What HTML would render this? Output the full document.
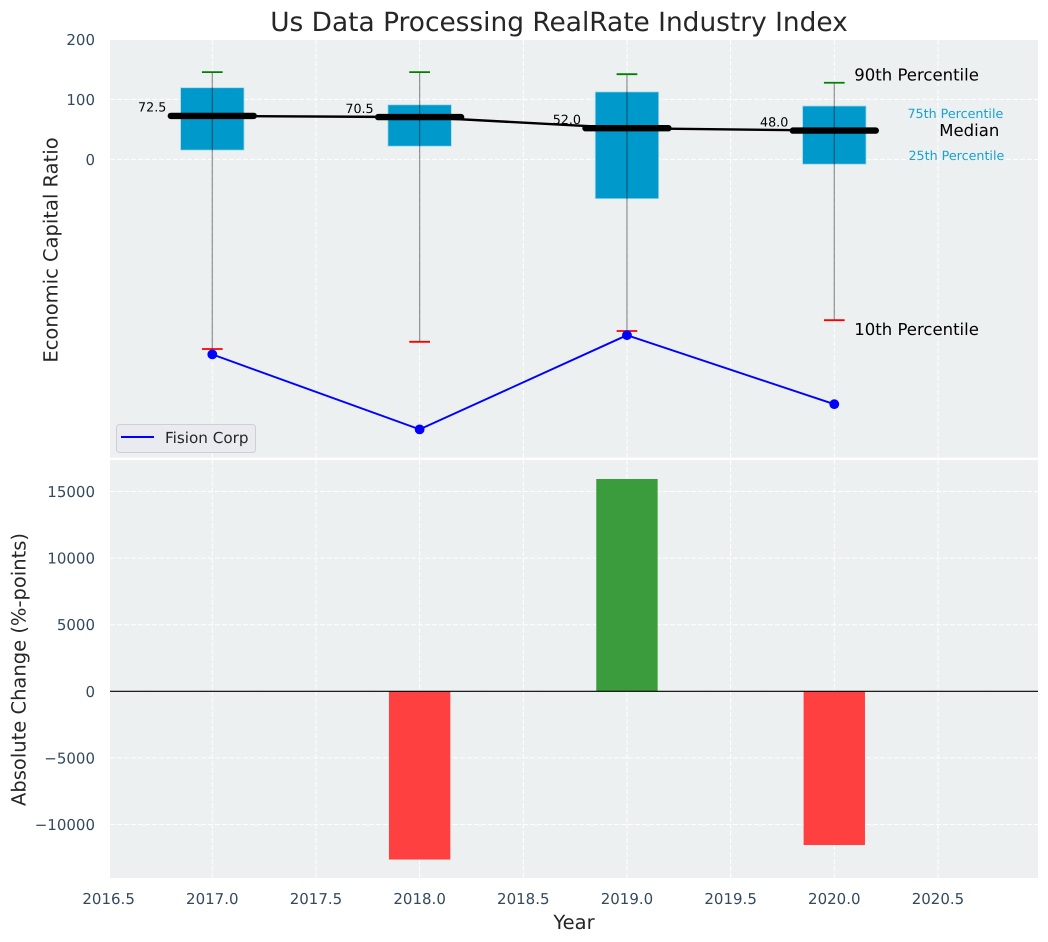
<!DOCTYPE html>
<html>
<head>
<meta charset="utf-8">
<title>Us Data Processing RealRate Industry Index</title>
<style>
html,body{margin:0;padding:0;background:#fff;}
svg{display:block;font-family:"DejaVu Sans","Liberation Sans",sans-serif;text-rendering:geometricPrecision;}
</style>
</head>
<body>
<svg id="chart" width="1048" height="942" viewBox="0 0 1048 942" xmlns="http://www.w3.org/2000/svg">
  <text x="559" y="31" font-size="26.4" fill="#262626" text-anchor="middle">Us Data Processing RealRate Industry Index</text>
  <rect x="110" y="40" width="928" height="417.7" fill="#ecf0f1"/>
  <rect x="110" y="460" width="928" height="418" fill="#ecf0f1"/>
  <g id="top-grid"></g>
  <g id="bottom-grid"></g>
  <g id="top-marks"></g>
  <g id="bottom-marks"></g>
  <g id="axis-labels"></g>
  <text transform="translate(57.5,250) rotate(-90)" font-size="19.5" fill="#262626" text-anchor="middle">Economic Capital Ratio</text>
  <text transform="translate(25.5,669.5) rotate(-90)" font-size="19.5" fill="#262626" text-anchor="middle">Absolute Change (%-points)</text>
  <text x="574" y="929" font-size="19.5" fill="#262626" text-anchor="middle">Year</text>
  <g>
    <rect x="116.5" y="424.5" width="139" height="28" rx="3" fill="#e9ebf1" stroke="#cfcfd2" stroke-width="1"/>
    <line x1="121" y1="437" x2="154" y2="437" stroke="#0000ff" stroke-width="2"/>
    <text x="165" y="443" font-size="15.2" fill="#262626">Fision Corp</text>
  </g>
</svg>
<script>
var years = [2017, 2018, 2019, 2020];
var p90 = [145.5, 145.5, 142, 127.7];
var p75 = [119.5, 91, 112.5, 89];
var medians = [72.5, 70.5, 52.0, 48.0];
var p25 = [15.5, 22, -65.5, -8];
var p10 = [-316, -304, -286, -268];
var fisionCorp = [-325, -450, -293, -408];
var absoluteChange = [0, -12630, 15940, -11540];
var xTicks = [2016.5, 2017, 2017.5, 2018, 2018.5, 2019, 2019.5, 2020, 2020.5];
var topYTicks = [200, 100, 0];
var bottomYTicks = [15000, 10000, 5000, 0, -5000, -10000];
var medianLabels = ["72.5", "70.5", "52.0", "48.0"];

var NS = "http://www.w3.org/2000/svg";
function xScale(v) { return 212.3 + (v - 2017) * 207.33; }
function yTop(v) { return 159.4 - v * 0.6; }
function yBottom(v) { return 691.3 - v * 0.01332; }
function make(parent, tag, attrs, text) {
  var el = document.createElementNS(NS, tag);
  for (var k in attrs) { el.setAttribute(k, attrs[k]); }
  if (text !== undefined) { el.textContent = text; }
  parent.appendChild(el);
  return el;
}
var topGrid = document.getElementById("top-grid");
var bottomGrid = document.getElementById("bottom-grid");
var topMarks = document.getElementById("top-marks");
var bottomMarks = document.getElementById("bottom-marks");
var axisLabels = document.getElementById("axis-labels");
var gridStyle = { stroke: "#ffffff", "stroke-width": 1, "stroke-dasharray": "5 2", fill: "none" };
function gridLine(parent, x1, y1, x2, y2) {
  var a = { x1: x1, y1: y1, x2: x2, y2: y2 };
  for (var k in gridStyle) { a[k] = gridStyle[k]; }
  return make(parent, "line", a);
}

xTicks.forEach(function (t) {
  var x = xScale(t);
  if (x >= 110) {
    var g1 = gridLine(topGrid, x, 40, x, 457.7);
    
    
    var g2 = gridLine(bottomGrid, x, 460, x, 878);
    
    
  }
  var lab = make(axisLabels, "text", { x: x, y: 904, "font-size": 15, fill: "#34495e", "text-anchor": "middle" }, t.toFixed(1));
  
  
});
topYTicks.forEach(function (t) {
  var y = yTop(t);
  var g = gridLine(topGrid, 110, y, 1038, y);
  
  
  var lab = make(axisLabels, "text", { x: 95, y: y + 5.5, "font-size": 15, fill: "#34495e", "text-anchor": "end" }, String(t));
  
  
});
bottomYTicks.forEach(function (t) {
  var y = yBottom(t);
  var g = gridLine(bottomGrid, 110, y, 1038, y);
  
  
  var txt = t < 0 ? "\u2212" + Math.abs(t) : String(t);
  var lab = make(axisLabels, "text", { x: 95, y: y + 5.5, "font-size": 15, fill: "#34495e", "text-anchor": "end" }, txt);
  
  
});

var halfBox = 0.153, halfMedian = 0.2, halfCap = 0.05;
years.forEach(function (yr, i) {
  var box = make(topMarks, "rect", {
    x: xScale(yr - halfBox), y: yTop(p75[i]),
    width: xScale(yr + halfBox) - xScale(yr - halfBox),
    height: yTop(p25[i]) - yTop(p75[i]),
    fill: "#0099cc", stroke: "#a8d8e8", "stroke-width": 0.8
  });
  
  
});
years.forEach(function (yr, i) {
  var x = xScale(yr);
  var wh = make(topMarks, "line", { x1: x, y1: yTop(p90[i]), x2: x, y2: yTop(p10[i]), stroke: "#000000", "stroke-opacity": 0.42, "stroke-width": 1.2 });
  
  
  var capHi = make(topMarks, "line", { x1: xScale(yr - halfCap), y1: yTop(p90[i]), x2: xScale(yr + halfCap), y2: yTop(p90[i]), stroke: "#008000", "stroke-width": 1.8 });
  
  
  var capLo = make(topMarks, "line", { x1: xScale(yr - halfCap), y1: yTop(p10[i]), x2: xScale(yr + halfCap), y2: yTop(p10[i]), stroke: "#ff0000", "stroke-width": 1.8 });
  
  
  var ml = make(topMarks, "text", { x: xScale(yr) - 46, y: yTop(medians[i]) - 4.2, "font-size": 12.7, fill: "#000000", "text-anchor": "end" }, medianLabels[i]);
  
  
});

var medianPts = years.map(function (yr, i) { return xScale(yr) + "," + yTop(medians[i]); }).join(" ");
var medianLine = make(topMarks, "polyline", { points: medianPts, fill: "none", stroke: "#000000", "stroke-width": 2.4 });


years.forEach(function (yr, i) {
  var m = make(topMarks, "line", { x1: xScale(yr - halfMedian), y1: yTop(medians[i]), x2: xScale(yr + halfMedian), y2: yTop(medians[i]), stroke: "#000000", "stroke-width": 6.4, "stroke-linecap": "round" });
  
  
});

var fisionPts = years.map(function (yr, i) { return xScale(yr) + "," + yTop(fisionCorp[i]); }).join(" ");
var fisionLine = make(topMarks, "polyline", { points: fisionPts, fill: "none", stroke: "#0000ff", "stroke-width": 1.9 });


years.forEach(function (yr, i) {
  var p = make(topMarks, "circle", { cx: xScale(yr), cy: yTop(fisionCorp[i]), r: 4.9, fill: "#0000ff" });
  
  
});

var last = years.length - 1;
var lastX = xScale(years[last]);
var a90 = make(topMarks, "text", { x: lastX + 20, y: yTop(p90[last]) - 2.5, "font-size": 16.5, fill: "#000000" }, "90th Percentile");


var a75 = make(topMarks, "text", { x: lastX + 169, y: yTop(p75[last]) + 12, "font-size": 12.7, fill: "#0099cc", "fill-opacity": 0.9, "text-anchor": "end" }, "75th Percentile");


var aMed = make(topMarks, "text", { x: lastX + 165, y: yTop(medians[last]) + 5.5, "font-size": 16.5, fill: "#000000", "text-anchor": "end" }, "Median");


var a25 = make(topMarks, "text", { x: lastX + 170, y: yTop(p25[last]) - 4, "font-size": 12.7, fill: "#0099cc", "fill-opacity": 0.9, "text-anchor": "end" }, "25th Percentile");


var a10 = make(topMarks, "text", { x: lastX + 20, y: yTop(p10[last]) + 15, "font-size": 16.5, fill: "#000000" }, "10th Percentile");



years.forEach(function (yr, i) {
  var v = absoluteChange[i];
  if (v === 0) { return; }
  var y0 = yBottom(0), y1 = yBottom(v);
  var bar = make(bottomMarks, "rect", {
    x: xScale(yr - 0.148), y: Math.min(y0, y1),
    width: xScale(yr + 0.148) - xScale(yr - 0.148),
    height: Math.abs(y1 - y0),
    fill: v > 0 ? "#3a9c3c" : "#ff4040"
  });
  
  
});
var zero = make(bottomMarks, "line", { x1: 110, y1: yBottom(0), x2: 1038, y2: yBottom(0), stroke: "#000000", "stroke-width": 1.2 });


</script>
</body>
</html>
